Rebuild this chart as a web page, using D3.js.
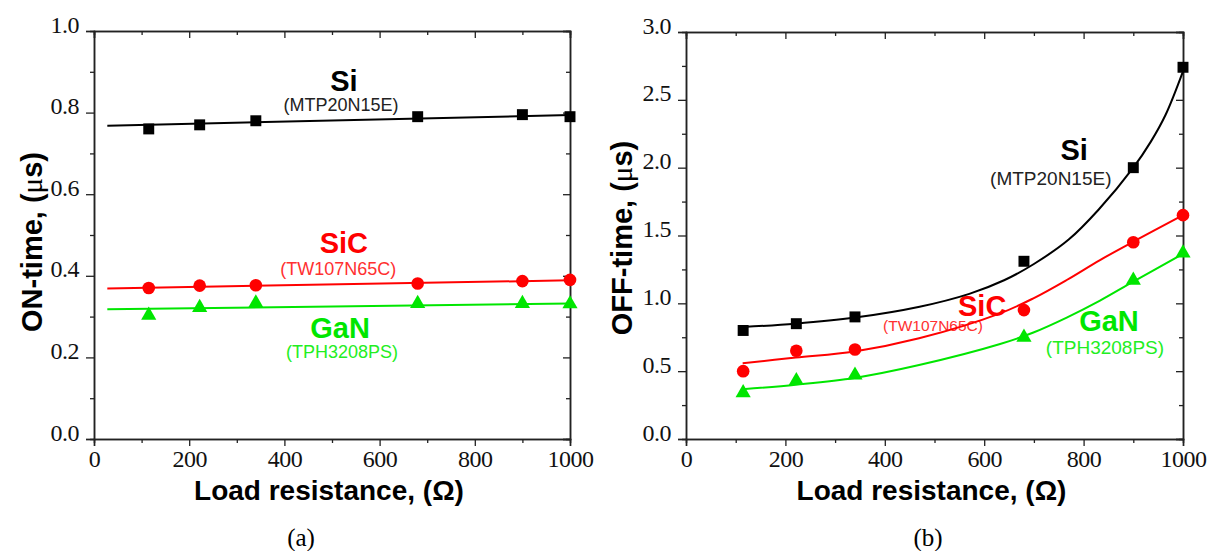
<!DOCTYPE html>
<html>
<head>
<meta charset="utf-8">
<script src="https://cdn.jsdelivr.net/npm/d3@7"></script>
<style>
  body { margin: 0; background: #fff; }
  svg { display: block; }
</style>
</head>
<body>
<svg id="chart" width="1215" height="551"></svg>
<script>
// data
var resistance = [115, 222, 340, 680, 900, 1000];

var onSi  = [0.76, 0.77, 0.78, 0.79, 0.795, 0.79];
var onSiC = [0.37, 0.376, 0.377, 0.381, 0.387, 0.39];
var onGaN = [0.303, 0.322, 0.333, 0.332, 0.332, 0.331];

var offSi  = [0.80, 0.85, 0.90, 1.31, 2.0, 2.74];
var offSiC = [0.50, 0.65, 0.66, 0.95, 1.45, 1.65];
var offGaN = [0.34, 0.43, 0.47, 0.75, 1.17, 1.37];

// fitted lines, points
var onFitX     = [28, 1000];
var onSiFit    = [0.768, 0.794];
var onSiCFit   = [0.369, 0.389];
var onGaNFit   = [0.318, 0.332];

var offSiFitX  = [114, 220, 340, 470, 570, 640, 700, 770, 830, 900, 935, 965, 1000];
var offSiFit   = [0.825, 0.85, 0.895, 0.975, 1.07, 1.17, 1.29, 1.47, 1.69, 2.0, 2.19, 2.39, 2.71];
var offFitX    = [114, 221, 339, 469, 632, 699, 766, 833, 900, 1000];
var offSiCFit  = [0.558, 0.60, 0.645, 0.742, 0.926, 1.037, 1.172, 1.319, 1.454, 1.65];
var offGaNFit  = [0.366, 0.40, 0.45, 0.545, 0.70, 0.785, 0.895, 1.02, 1.16, 1.365];

var xTicks   = [0, 200, 400, 600, 800, 1000];
var onTicks  = [0.0, 0.2, 0.4, 0.6, 0.8, 1.0];
var offTicks = [0.0, 0.5, 1.0, 1.5, 2.0, 2.5, 3.0];

var devices = ["Si", "SiC", "GaN"];
var parts   = ["(MTP20N15E)", "(TW107N65C)", "(TPH3208PS)"];

var colors = {Si: "#000000", SiC: "#ff0000", GaN: "#00e600"};
var subColors = {Si: "#222222", SiC: "#ff3030", GaN: "#22ee22"};

var svg = d3.select("#chart");

function drawPanel(cfg) {
  var x = d3.scaleLinear().domain([0, 1000]).range([cfg.left, cfg.right]);
  var y = d3.scaleLinear().domain([0, cfg.ymax]).range([cfg.bottom, cfg.top]);
  var g = svg.append("g");

  var minorX = d3.range(100, 1000, 200);
  var minorY = cfg.minorY;

  // bottom axis
  g.append("g").attr("transform", "translate(0," + cfg.bottom + ")")
    .call(d3.axisBottom(x).tickValues(xTicks).tickSize(7).tickPadding(4).tickFormat(d3.format("d")));
  g.append("g").attr("transform", "translate(0," + cfg.bottom + ")")
    .call(d3.axisBottom(x).tickValues(minorX).tickSize(4).tickFormat(""));
  // top mirror, ticks inward
  g.append("g").attr("transform", "translate(0," + cfg.top + ")")
    .call(d3.axisTop(x).tickValues(xTicks).tickSize(-7).tickFormat(""));
  g.append("g").attr("transform", "translate(0," + cfg.top + ")")
    .call(d3.axisTop(x).tickValues(minorX).tickSize(-4).tickFormat(""));
  // left axis
  var ly = g.append("g").attr("transform", "translate(" + cfg.left + ",0)")
    .call(d3.axisLeft(y).tickValues(cfg.ticks).tickSize(8).tickPadding(7).tickFormat(d3.format(".1f")));
  g.append("g").attr("transform", "translate(" + cfg.left + ",0)")
    .call(d3.axisLeft(y).tickValues(minorY).tickSize(4).tickFormat(""));
  // right mirror
  g.append("g").attr("transform", "translate(" + cfg.right + ",0)")
    .call(d3.axisRight(y).tickValues(cfg.ticks).tickSize(-7).tickFormat(""));
  g.append("g").attr("transform", "translate(" + cfg.right + ",0)")
    .call(d3.axisRight(y).tickValues(minorY).tickSize(-4).tickFormat(""));

  g.selectAll(".domain").attr("stroke", "#222").attr("stroke-width", 1.5);
  g.selectAll(".tick line").attr("stroke", "#222").attr("stroke-width", 1.3);
  g.selectAll(".tick text")
    .attr("fill", "#111")
    .attr("font-family", null)
    .attr("font-size", null)
    .style("font-family", "'Liberation Serif', 'Times New Roman', serif")
    .style("font-size", "24px")
    .style("letter-spacing", "-0.5px");
  ly.selectAll(".tick text").attr("dy", 1);

  // labels (under the lines)
  devices.forEach(function(d, i) {
    var lab = cfg.labels[i];
    g.append("text")
      .attr("x", x(lab[0])).attr("y", y(lab[1]))
      .attr("text-anchor", "middle")
      .attr("fill", colors[d])
      .style("font-family", "'Liberation Sans', Arial, sans-serif")
      .style("font-weight", "bold")
      .style("font-size", "29px")
      .text(d);
    g.append("text")
      .attr("x", x(lab[2])).attr("y", y(lab[3]))
      .attr("text-anchor", "middle")
      .attr("fill", subColors[d])
      .style("font-family", "'Liberation Sans', Arial, sans-serif")
      .style("font-size", lab[4] + "px")
      .text(parts[i]);
  });

  // fit lines
  var line = d3.line().x(function(p) { return x(p[0]); }).y(function(p) { return y(p[1]); })
    .curve(d3.curveCatmullRom.alpha(0.5));
  cfg.fits.forEach(function(f, i) {
    g.append("path")
      .datum(d3.zip(f[0], f[1]))
      .attr("fill", "none")
      .attr("stroke", colors[devices[i]])
      .attr("stroke-width", 2)
      .attr("d", line);
  });

  // markers
  var shapes = [d3.symbolSquare, d3.symbolCircle, d3.symbolTriangle];
  var sizes = [120, 125, 100];
  cfg.series.forEach(function(vals, i) {
    g.selectAll(".m" + i)
      .data(d3.zip(resistance, vals))
      .enter()
      .append("path")
      .attr("class", "m" + i)
      .attr("transform", function(p) { return "translate(" + x(p[0]) + "," + y(p[1]) + ")"; })
      .attr("d", d3.symbol().type(shapes[i]).size(sizes[i]))
      .attr("fill", colors[devices[i]]);
  });

  // axis titles
  g.append("text")
    .attr("x", (cfg.left + cfg.right) / 2 - 3).attr("y", 500)
    .attr("text-anchor", "middle")
    .style("font-family", "'Liberation Sans', Arial, sans-serif")
    .style("font-weight", "bold")
    .style("font-size", "28px")
    .text("Load resistance, (\u03A9)");

  var yt = g.append("text")
    .attr("transform", "translate(" + cfg.titleX + "," + cfg.titleY + ") rotate(-90)")
    .attr("text-anchor", "middle")
    .style("font-family", "'Liberation Sans', Arial, sans-serif")
    .style("font-weight", "bold")
    .style("font-size", "29px");
  yt.append("tspan").text(cfg.title + ", (");
  yt.append("tspan").style("font-weight", "normal").style("font-family", "'Liberation Serif', serif").text("\u03BC");
  yt.append("tspan").text("s)");

  g.append("text")
    .attr("x", cfg.panelX).attr("y", 546)
    .attr("text-anchor", "middle")
    .style("font-family", "'Liberation Serif', 'Times New Roman', serif")
    .style("font-size", "25px")
    .text(cfg.panel);
}

drawPanel({
  left: 94, right: 570, top: 31, bottom: 439, ymax: 1.0,
  ticks: onTicks, minorY: [0.1, 0.3, 0.5, 0.7, 0.9],
  series: [onSi, onSiC, onGaN],
  fits: [[onFitX, onSiFit], [onFitX, onSiCFit], [onFitX, onGaNFit]],
  labels: [[525, 0.853, 519, 0.804, 18], [525, 0.456, 513, 0.402, 18], [517, 0.248, 521, 0.199, 18]],
  title: "ON-time", titleX: 42, titleY: 242,
  panel: "(a)", panelX: 301
});

drawPanel({
  left: 686, right: 1183, top: 32, bottom: 439, ymax: 3.0,
  ticks: offTicks, minorY: [0.25, 0.75, 1.25, 1.75, 2.25, 2.75],
  series: [offSi, offSiC, offGaN],
  fits: [[offSiFitX, offSiFit], [offFitX, offSiCFit], [offFitX, offGaNFit]],
  labels: [[781, 2.056, 734, 1.872, 19], [596, 0.907, 497, 0.796, 15.5], [851, 0.796, 843, 0.627, 19]],
  title: "OFF-time", titleX: 632, titleY: 238,
  panel: "(b)", panelX: 928
});
</script>
</body>
</html>
